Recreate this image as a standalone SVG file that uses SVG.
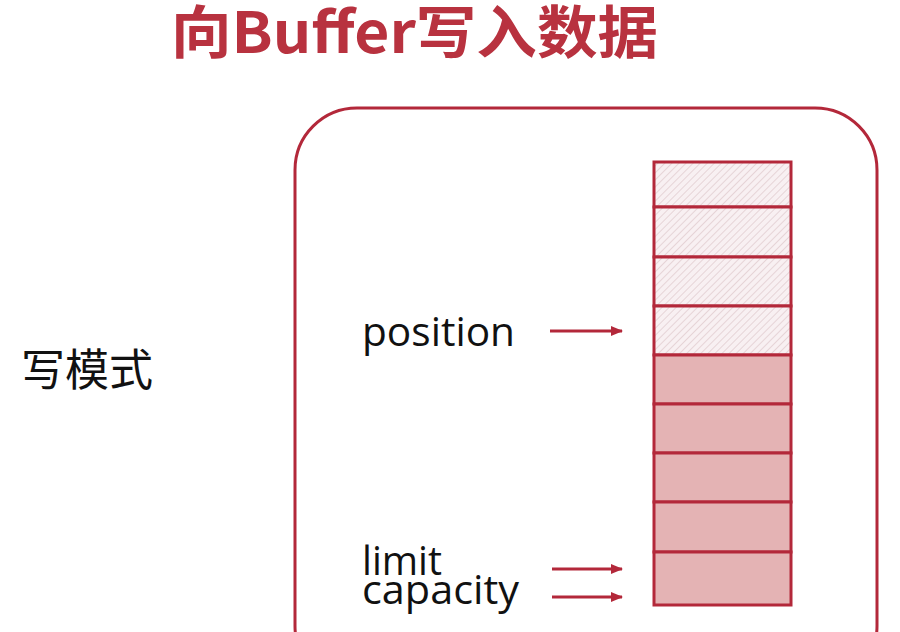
<svg xmlns="http://www.w3.org/2000/svg" width="900" height="632" viewBox="0 0 900 632">
<defs>
<style>
.title{font-family:"Noto Sans CJK SC","Noto Sans",sans-serif;font-weight:bold;font-size:57px;fill:#b8323f}
.lbl{font-family:"Open Sans","Noto Sans",sans-serif;font-size:40px;fill:#111}
.cjk{font-family:"Noto Sans CJK SC",sans-serif;font-size:44px;fill:#111}
.cell{stroke:#b3283a;stroke-width:3}
.empty{fill:url(#hatch)}
.full{fill:#e4b3b4}
.conn{stroke:#b3283a;stroke-width:3;fill:none;marker-end:url(#ah)}
</style>
<pattern id="hatch" patternUnits="userSpaceOnUse" width="5" height="5" patternTransform="rotate(45)">
<rect width="5" height="5" fill="#f8f0f2"/>
<line x1="0" y1="0" x2="0" y2="5" stroke="#e2cdd1" stroke-width="1.6"/>
</pattern>
<marker id="ah" markerWidth="12" markerHeight="10" refX="11" refY="5" orient="auto" markerUnits="userSpaceOnUse">
<path d="M0,0 L12,5 L0,10 Z" fill="#b3283a"/>
</marker>
</defs>
<rect width="900" height="632" fill="#ffffff"/>
<text class="title" x="171" y="53" textLength="487" lengthAdjust="spacingAndGlyphs">向Buffer写入数据</text>
<g id="frame">
<rect x="295" y="108" width="582" height="580" rx="62" ry="62" fill="none" stroke="#b3283a" stroke-width="3"/>
</g>
<g id="mode"><text class="cjk" x="21" y="386">写模式</text></g>
<g id="buffer">
<rect class="cell empty" x="654" y="162" width="137" height="45"/>
<rect class="cell empty" x="654" y="207" width="137" height="50"/>
<rect class="cell empty" x="654" y="257" width="137" height="49"/>
<rect class="cell empty" x="654" y="306" width="137" height="49"/>
<rect class="cell full" x="654" y="355" width="137" height="49"/>
<rect class="cell full" x="654" y="404" width="137" height="49"/>
<rect class="cell full" x="654" y="453" width="137" height="49"/>
<rect class="cell full" x="654" y="502" width="137" height="50"/>
<rect class="cell full" x="654" y="552" width="137" height="53"/>
</g>
<g id="position"><text class="lbl" x="362" y="346" textLength="153" lengthAdjust="spacingAndGlyphs">position</text></g>
<g id="limit"><text class="lbl" x="362" y="575" textLength="80" lengthAdjust="spacingAndGlyphs">limit</text></g>
<g id="capacity"><text class="lbl" x="362" y="604" textLength="157" lengthAdjust="spacingAndGlyphs">capacity</text></g>
<g id="connectors">
<line class="conn" x1="550" y1="331" x2="622" y2="331"/>
<line class="conn" x1="552" y1="569" x2="622" y2="569"/>
<line class="conn" x1="552" y1="597" x2="622" y2="597"/>
</g>
</svg>
